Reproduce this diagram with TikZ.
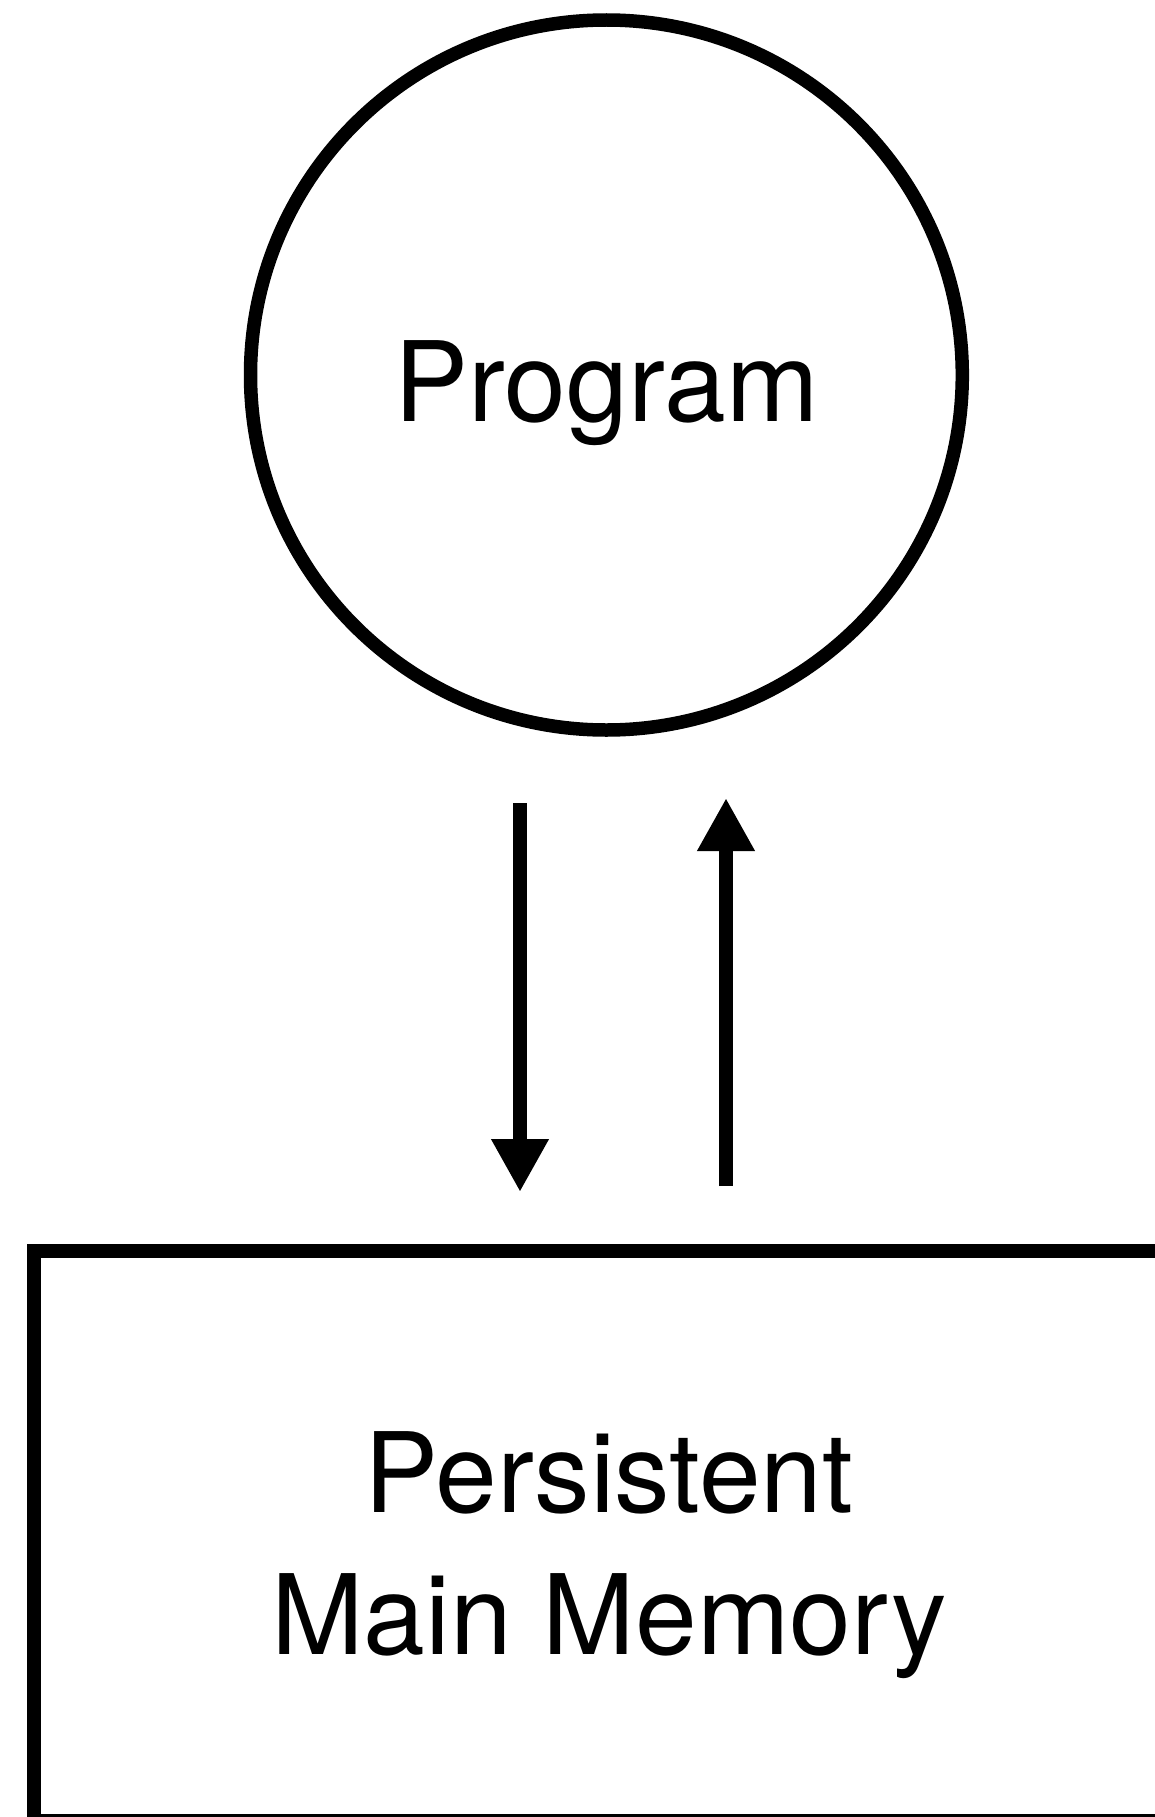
\documentclass[tikz,border=0pt]{standalone}
\usepackage{fontspec}
\setmainfont{TeX Gyre Heros}
\usetikzlibrary{arrows.meta,shapes.geometric}
\begin{document}
\begin{tikzpicture}[x=1pt,y=-1pt,
  thick line/.style={line width=13.5pt},
  label text/.style={font=\fontsize{111}{140}\selectfont, inner sep=0pt},
  flow/.style={thick line, -{Triangle[length=53pt,width=54pt]}}]
\useasboundingbox (0,0) rectangle (1154,1817);
\fill[white] (0,0) rectangle (1154,1817);
\node[ellipse, draw, thick line, minimum width=711.8pt, minimum height=710pt, inner sep=0pt] (prog) at (606.4,375) {};
\node[label text, anchor=base] (progtext) at (606.4,421.7) {Program};
\node[rectangle, draw, thick line, minimum width=1146pt, minimum height=570pt, inner sep=0pt] (mem) at (607,1536) {};
\node[label text, anchor=base] (memtext1) at (609,1512) {Persistent};
\node[label text, anchor=base] (memtext2) at (609,1654) {Main Memory};
\coordinate (downstart) at (520,803);
\coordinate (downend) at (520,1192);
\coordinate (upstart) at (726,1186);
\coordinate (upend) at (726,798);
\draw[flow] (downstart) -- (downend);
\draw[flow] (upstart) -- (upend);
\end{tikzpicture}
\end{document}
